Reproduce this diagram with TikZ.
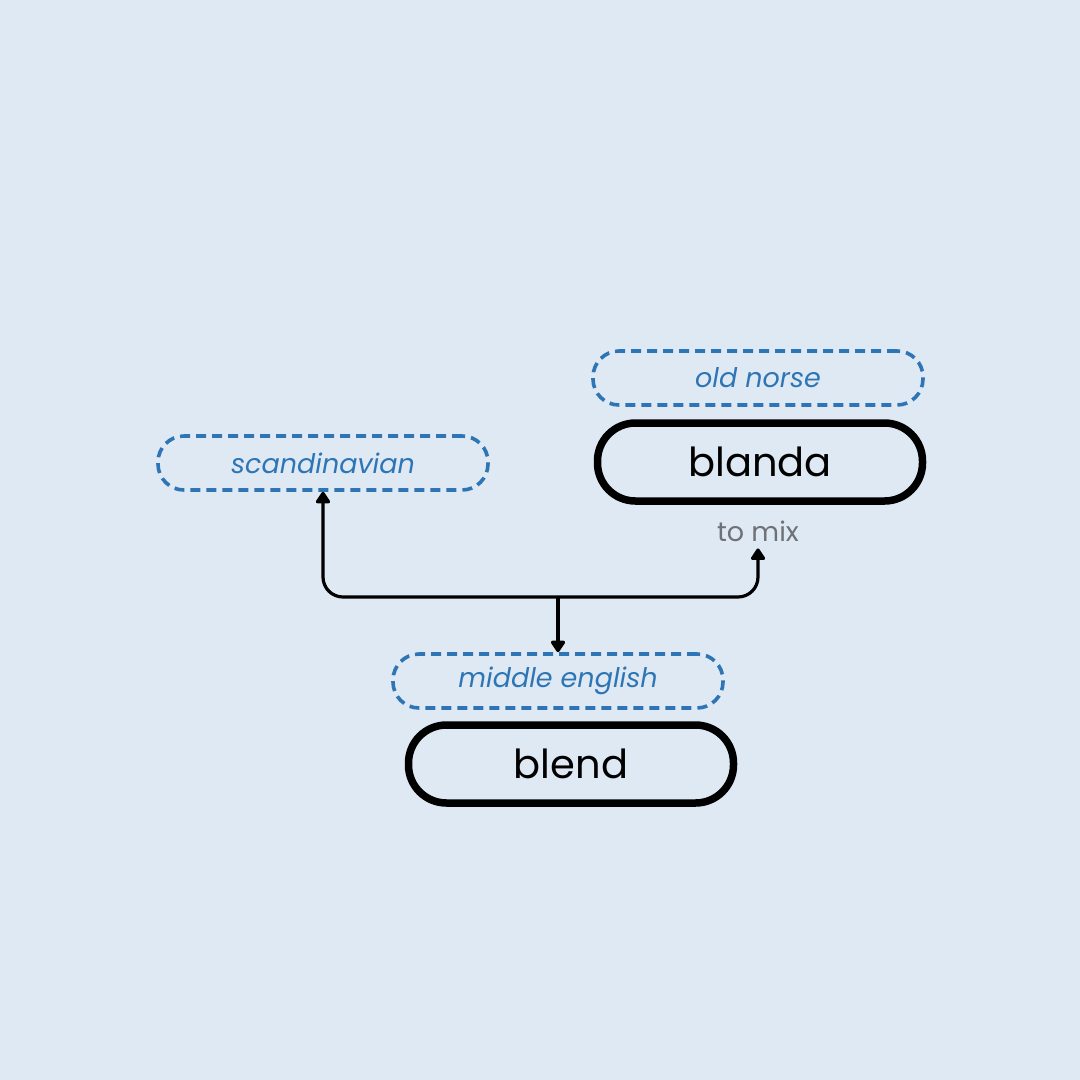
\documentclass[tikz,border=0pt]{standalone}
\usepackage{fontspec}
\setmainfont{Poppins}
\usetikzlibrary{arrows.meta}
\definecolor{bgc}{HTML}{DFE9F4}
\definecolor{langblue}{HTML}{2E75B5}
\definecolor{glossgray}{HTML}{6E7175}
\tikzset{
  wordbox/.style={draw=black, line width=7.5pt, rounded corners=38pt, minimum width=325pt, minimum height=78pt, inner sep=0pt, font=\fontsize{40}{48}\selectfont, text=black},
  langbox/.style={draw=langblue, line width=3.6pt, dash pattern=on 10pt off 6pt, rounded corners=26pt, minimum width=330pt, minimum height=54pt, inner sep=0pt, font=\fontsize{27}{32}\selectfont\itshape, text=langblue},
  gloss/.style={inner sep=0pt, font=\fontsize{27}{32}\selectfont, text=glossgray},
  conn/.style={draw=black, line width=3.2pt, rounded corners=20pt, -{Triangle[length=13pt,width=16pt,round]}}
}
\begin{document}
\begin{tikzpicture}[x=1pt,y=-1pt]
\fill[bgc] (0,0) rectangle (1080,1080);
\useasboundingbox (0,0) rectangle (1080,1080);
\node[langbox] (on) at (758,378) {old norse};
\node[wordbox] (blanda) at (760,462) {blanda};
\node[gloss, anchor=base] (tomix) at (758,541) {to mix};
\node[langbox] (sc) at (323,463) {scandinavian};
\node[langbox] (me) at (558,681) {middle english};
\node[wordbox] (blend) at (571,764) {blend};
\coordinate (j) at (558,597);
\draw[conn] (j) -| ([yshift=-7pt]tomix.south);
\draw[conn] (j) -| (sc.south);
\draw[conn] (j) -- (me.north);
\end{tikzpicture}
\end{document}
